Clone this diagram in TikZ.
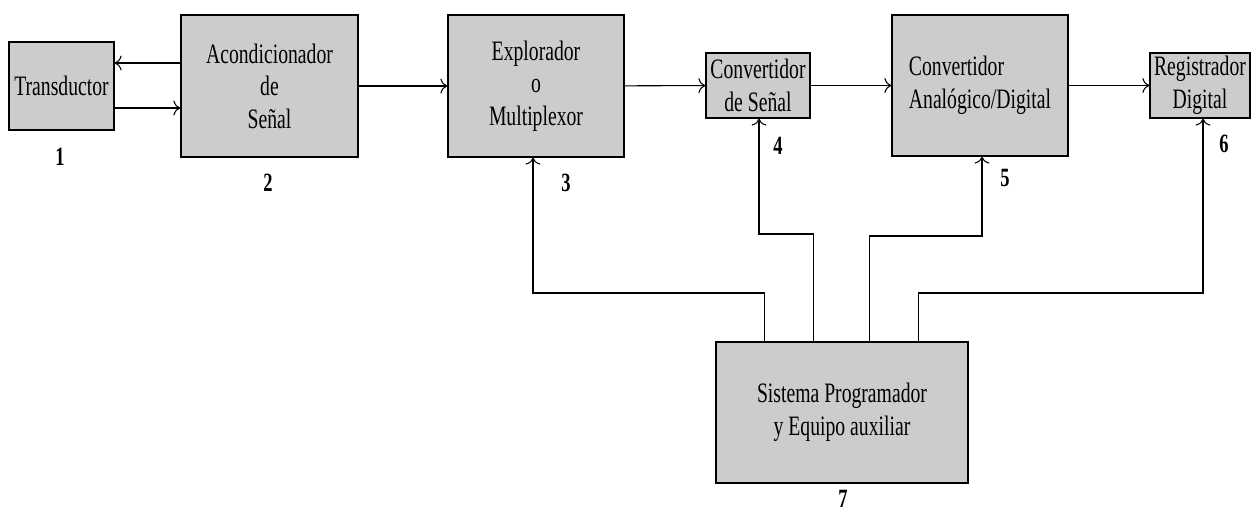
\documentclass[tikz,border=0pt]{standalone}
\usepackage{fontspec}
\setmainfont{Liberation Serif}
\newfontfamily\tallfont[FakeStretch=0.7]{Liberation Serif}
\usetikzlibrary{arrows.meta}
\definecolor{boxgray}{HTML}{CCCCCC}

\begin{document}
\begin{tikzpicture}[x=0.02cm,y=-0.02cm,
    block/.style={draw,fill=boxgray,line width=0.7pt,inner sep=1pt,align=center,
                  font=\tallfont\fontsize{16}{18.5}\selectfont},
    num/.style={font=\tallfont\fontsize{15}{15}\selectfont\bfseries},
    Arr/.style={-{To[length=1.4mm,width=3mm]},line width=0.6pt},
                        ]
    \useasboundingbox (0,0) rectangle (1252,511);
    % bloques
    \node[block,minimum width=2.1cm,minimum height=1.76cm] (trans) at (61.5,86) {Transductor};
    \node[block,minimum width=3.54cm,minimum height=2.84cm] (acond) at (269.5,86) {Acondicionador\\de\\Señal};
    \node[block,minimum width=3.52cm,minimum height=2.84cm] (explor) at (536,86) {Explorador\\o\\Multiplexor};
    \node[block,minimum width=2.08cm,minimum height=1.3cm] (convs) at (758,85.5) {Convertidor\\de Señal};
    \node[block,minimum width=3.52cm,minimum height=2.82cm,align=left] (convad) at (980,85.5) {Convertidor\\Analógico/Digital};
    \node[block,minimum width=2.0cm,minimum height=1.3cm] (regis) at (1200,85.5) {Registrador\\Digital};
    \node[block,minimum width=5.04cm,minimum height=2.82cm] (sist) at (842,412.5) {Sistema Programador\\y Equipo auxiliar};
    % numeros
    \node[num] (n1) at (60,157) {1};
    \node[num] (n2) at (268,183) {2};
    \node[num] (n3) at (566,183) {3};
    \node[num] (n4) at (778,146) {4};
    \node[num] (n5) at (1005,178) {5};
    \node[num] (n6) at (1224,144) {6};
    \node[num] (n7) at (843,499) {7};
    % flechas
    \draw[Arr] ([yshift=0.46cm]acond.west) -- ([yshift=0.46cm]trans.east);
    \draw[Arr] ([yshift=-0.44cm]trans.east) -- ([yshift=-0.44cm]acond.west);
    \draw[Arr] (acond) -- (explor);
    \draw[Arr] (explor) -- (convs);
    \draw[Arr] (convs) -- (convad);
    \draw[Arr] (convad) -- (regis);
    \coordinate (k3) at (533,293);
    \coordinate (k4) at (759,234);
    \coordinate (k5) at (982,236);
    \coordinate (k6) at (1203,293);
    \draw[Arr] ([xshift=0.98cm]sist.north west) |- (k3) -- (k3 |- explor.south);
    \draw[Arr] ([xshift=1.96cm]sist.north west) |- (k4) -- (k4 |- convs.south);
    \draw[Arr] ([xshift=3.08cm]sist.north west) |- (k5) -- (k5 |- convad.south);
    \draw[Arr] ([xshift=4.06cm]sist.north west) |- (k6) -- (k6 |- regis.south);
\end{tikzpicture}
\end{document}
